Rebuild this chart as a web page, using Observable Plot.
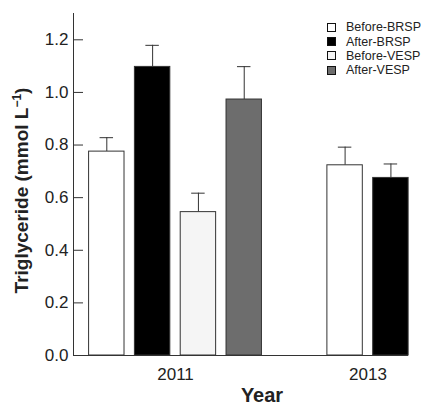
<!DOCTYPE html>
<html>
<head>
<meta charset="utf-8">
<script src="https://cdn.jsdelivr.net/npm/d3@7"></script>
<script src="https://cdn.jsdelivr.net/npm/@observablehq/plot@0.6"></script>
<style>
  html, body { margin: 0; padding: 0; background: #fff; }
  #wrap { position: relative; width: 422px; height: 409px; font-family: "Liberation Sans", Arial, sans-serif; overflow: hidden; }
  #legend { position: absolute; left: 327px; top: 20px; width: 95px; font-size: 12.5px; color: #222; white-space: nowrap; }
  .row { display: flex; align-items: center; height: 14.4px; white-space: nowrap; }
  .sw { flex: none; width: 7px; height: 7px; border: 1px solid #111; margin-right: 10px; }
</style>
</head>
<body>
<div id="wrap"><div id="legend"></div></div>
<script>
const years = ["2011", "2013"];
const series = ["Before-BRSP", "After-BRSP", "Before-VESP", "After-VESP"];
const colors = ["#ffffff", "#000000", "#f5f5f5", "#6d6d6d"];
const groupSeries = [
  ["Before-BRSP", "After-BRSP", "Before-VESP", "After-VESP"],
  ["Before-BRSP", "After-BRSP"]
];
const means = [[0.775, 1.097, 0.545, 0.973], [0.723, 0.675]];
const uppers = [[0.828, 1.179, 0.617, 1.098], [0.792, 0.728]];
const yTicks = [0, 0.2, 0.4, 0.6, 0.8, 1.0, 1.2];

// layout parameters (in x-scale units: one unit = distance between year groups)
const step = 0.238, barW = 0.184, capHalf = 0.035;
const xMin = -0.53, xMax = 1.2104;

const rows = [];
groupSeries.forEach((ss, g) => {
  const n = ss.length;
  ss.forEach((s, i) => {
    const c = g + (i - (n - 1) / 2) * step;
    rows.push({year: years[g], series: s, mean: means[g][i], upper: uppers[g][i], center: c});
  });
});

const stroke = "#333";
const chart = Plot.plot({
  width: 422,
  height: 409,
  marginLeft: 73,
  marginRight: 14,
  marginTop: 13,
  marginBottom: 54,
  style: {fontFamily: "'Liberation Sans', Arial, sans-serif", color: "#222", background: "#fff"},
  x: {type: "linear", domain: [xMin, xMax], axis: null},
  y: {domain: [0, 1.3], axis: null},
  color: {domain: series, range: colors},
  marks: [
    Plot.ruleX(rows, {x: "center", y1: "mean", y2: "upper", stroke}),
    Plot.ruleY(rows, {y: "upper", x1: d => d.center - capHalf, x2: d => d.center + capHalf, stroke}),
    Plot.rectY(rows, {x1: d => d.center - barW / 2, x2: d => d.center + barW / 2, y1: 0, y2: "mean", fill: "series", stroke, strokeWidth: 1}),
    Plot.ruleX([xMin], {stroke}),
    Plot.ruleY([0], {stroke}),
    Plot.axisY({ticks: yTicks, tickSize: 10, dx: 10, tickFormat: () => "", label: null, stroke}),
    Plot.axisY({ticks: yTicks, tickSize: 0, tickPadding: 5, tickFormat: d => d.toFixed(1), fontSize: 17, label: null}),
    Plot.axisX({ticks: [0, 1], tickSize: 0, tickPadding: 12, tickFormat: i => years[i], fontSize: 17, label: null}),
    Plot.text(["Year"], {frameAnchor: "bottom", dx: 21, dy: 46, fontWeight: "bold", fontSize: 20}),
    Plot.text(["Triglyceride (mmol L-1)"], {frameAnchor: "left", textAnchor: "middle", rotate: -90, dx: -52, dy: 6, fontWeight: "bold", fontSize: 19})
  ]
});
document.getElementById("wrap").prepend(chart);

// superscript for the y label
chart.querySelectorAll("text").forEach(t => {
  if (t.textContent === "Triglyceride (mmol L-1)") {
    t.textContent = "";
    const ns = "http://www.w3.org/2000/svg";
    const a = document.createElementNS(ns, "tspan"); a.textContent = "Triglyceride (mmol L";
    const b = document.createElementNS(ns, "tspan"); b.textContent = "\u22121";
    b.setAttribute("font-size", "12"); b.setAttribute("dy", "-7");
    const c = document.createElementNS(ns, "tspan"); c.textContent = ")"; c.setAttribute("dy", "7");
    t.append(a, b, c);
  }
});

const legend = document.getElementById("legend");
series.forEach((s, i) => {
  const r = document.createElement("div"); r.className = "row";
  const sw = document.createElement("div"); sw.className = "sw"; sw.style.background = colors[i];
  const tx = document.createElement("span"); tx.textContent = s;
  r.append(sw, tx); legend.append(r);
});
</script>
</body>
</html>
